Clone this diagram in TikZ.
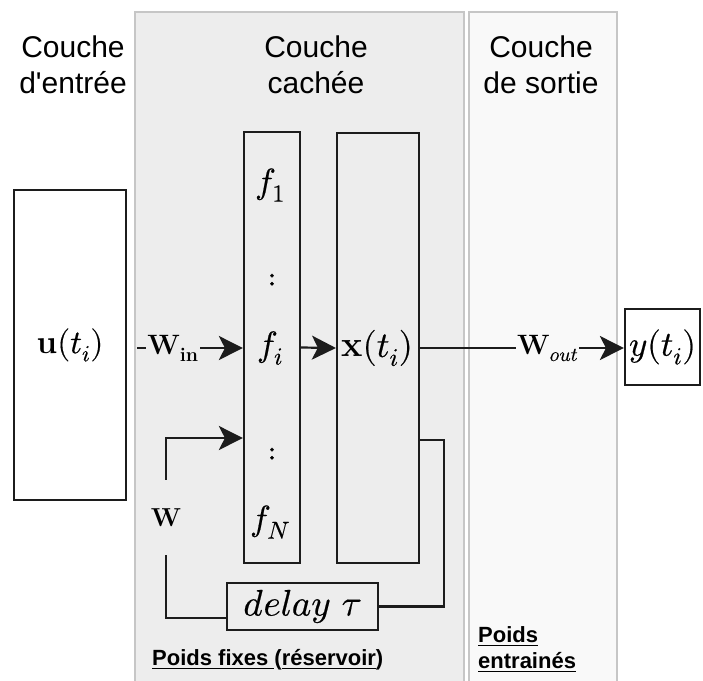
\documentclass[tikz,border=0pt]{standalone}
\usepackage{fontspec}
\usepackage{unicode-math}
\setmathfont{Latin Modern Math}[FakeBold=0.5]
\newfontfamily\arial{Liberation Sans}
\usetikzlibrary{arrows.meta}
\definecolor{hidbg}{HTML}{EDEDED}
\definecolor{outbg}{HTML}{F9F9F9}
\definecolor{panelline}{HTML}{C6C6C6}
\definecolor{ink}{HTML}{1C1C1C}
\newcommand{\fs}[1]{\fontsize{#1}{#1}\selectfont}

\begin{document}
\begin{tikzpicture}[x=1pt,y=-1pt,
  panel/.style={draw=panelline,line width=2pt},
  box/.style={draw=ink,line width=2.2pt,inner sep=0pt,rectangle},
  wire/.style={draw=ink,line width=2.2pt},
  arr/.style={wire,-{Stealth[length=24pt,width=24pt,inset=6pt]}},
  mathlbl/.style={inner sep=0pt,font=\fs{35}},
  wlbl/.style={inner sep=1pt,font=\fs{28}},
  title/.style={inner sep=0pt,anchor=base,font=\arial\fs{30}},
  caption/.style={inner sep=0pt,anchor=base west,font=\arial\bfseries\fs{22}}
]
\useasboundingbox (0,0) rectangle (703,680);

% layer panels
\path[panel,fill=hidbg] (135,12) rectangle (464,692);
\path[panel,fill=outbg] (469,12) rectangle (617,692);

% layer titles
\node[title] (tin1) at (73,57) {Couche};
\node[title] (tin2) at (73,93) {d'entrée};
\node[title] (thid1) at (316,57) {Couche};
\node[title] (thid2) at (316,93) {cachée};
\node[title] (tout1) at (541,57) {Couche};
\node[title] (tout2) at (541,93) {de sortie};

% boxes
\node[box,fill=white,minimum width=112pt,minimum height=310pt,font=\fs{33}] (inbox) at (70,345) {$\mathbf{u}(t_i)$};
\node[box,minimum width=56pt,minimum height=431pt] (fbox) at (272,347.5) {};
\node[box,minimum width=82pt,minimum height=430pt] (xbox) at (378,348) {};
\node[box,fill=white,minimum width=75pt,minimum height=76pt,font=\fs{35}] (ybox) at (662.5,347) {$y(t_i)$};
\node[box,minimum width=151pt,minimum height=47pt,font=\fs{37}] (delay) at (302.5,606.5) {$delay\ \tau$};

% neuron labels
\node[mathlbl] (f1) at (270,185) {$f_1$};
\node[mathlbl,font=\fs{34}] (dots1) at (272,281) {$:$};
\node[mathlbl] (fi) at (270,348) {$f_i$};
\node[mathlbl,font=\fs{34}] (dots2) at (272,455) {$:$};
\node[mathlbl] (fN) at (270,522) {$f_N$};
\node[mathlbl,font=\fs{36}] (xlbl) at (377,348) {$\mathbf{x}(t_i)$};

% connectors
\coordinate (winstart) at (137,348);
\draw[arr] (winstart) -- node[wlbl,fill=hidbg,pos=0.34] (win) {$\mathbf{W}_{\mathbf{in}}$} (winstart -| fbox.west);
\draw[arr] (fbox.east) -- (xbox.west);
\draw[arr] (xbox.east) -- node[wlbl,fill=outbg,pos=0.626] (wout) {$\mathbf{W}_{out}$} (xbox.east -| ybox.west);

% recurrent loop through the delay
\coordinate (fbx) at (444,440);
\draw[wire] (fbx -| xbox.east) -- (fbx) |- (delay.east);
\coordinate (fbl) at (166,618);
\coordinate (fbin) at (166,438);
\draw[arr] (fbl -| delay.west) -- (fbl) -- node[inner sep=0pt,fill=hidbg,minimum height=75pt,font=\fs{26},pos=0.56] (wres) {$\mathbf{W}$} (fbin) -- (fbin -| fbox.west);

% captions
\node[caption] (cfix) at (152,665) {\underline{Poids fixes\ }(\underline{réservoir})};
\node[caption] (ctr1) at (478,642) {\underline{Poids}};
\node[caption] (ctr2) at (478,668) {\underline{entrainés}};
\end{tikzpicture}
\end{document}
